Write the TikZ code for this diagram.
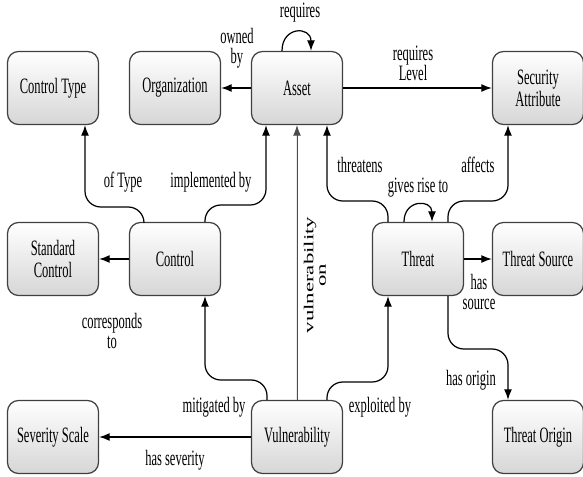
\documentclass[tikz,border=0pt]{standalone}
\usepackage{fontspec}
\setmainfont{Liberation Serif}[FakeStretch=0.57]
\newfontfamily\uprightserif{Liberation Serif}
\usepackage{graphicx}
\usetikzlibrary{positioning}
\usetikzlibrary{arrows.meta}

\begin{document}
\begin{tikzpicture}[x=0.02cm,y=-0.02cm,
    concept/.style={draw=black!75,line width=0.7pt,rounded corners=.22cm,
      minimum width=1.82cm,minimum height=1.46cm,top color=white,bottom color=black!16,
      align=center,font=\fontsize{12.5}{12.5}\selectfont},
    rel/.style={-{Latex[length=6pt,width=4.5pt]},line width=0.7pt},
    bent/.style={rel,rounded corners=9pt},
    lbl/.style={align=center,font=\fontsize{12.5}{11.5}\selectfont,inner sep=1pt}]
  \useasboundingbox (0,0) rectangle (583,477);

  % concepts
  \node [concept] (ctype)  at (53,88)   {Control Type};
  \node [concept] (org)    at (175,88)  {Organization};
  \node [concept] (asset)  at (297,88)  {Asset};
  \node [concept] (secatt) at (538,88)  {Security\\Attribute};
  \node [concept] (stdctl) at (53,259)  {Standard\\Control};
  \node [concept] (ctrl)   at (175,259) {Control};
  \node [concept] (threat) at (418,259) {Threat};
  \node [concept] (tsrc)   at (538,259) {Threat Source};
  \node [concept] (sev)    at (53,437)  {Severity Scale};
  \node [concept] (vuln)   at (297,437) {Vulnerability};
  \node [concept] (torig)  at (538,437) {Threat Origin};

  % straight relations
  \draw [rel] (asset) -- (org);
  \draw [rel] (asset) -- (secatt);
  \draw [rel] (ctrl) -- (stdctl);
  \draw [rel] (threat) -- (tsrc);
  \draw [rel] (vuln) -- (sev);
  \draw [rel,line width=0.5pt,draw=black!70,fill=black!70] (vuln) -- (asset);

  % self loops
  \draw [rel] ([xshift=-0.3cm]asset.north) .. controls (282,26) and (311,26) .. ([xshift=0.28cm]asset.north);
  \draw [rel] ([xshift=-0.28cm]threat.north) .. controls (404,199) and (432,199) .. ([xshift=0.28cm]threat.north);

  % bent relations
  \draw [bent] ([xshift=-0.62cm]ctrl.north) -- (144,207) -| ([xshift=0.64cm]ctype.south);
  \draw [bent] ([xshift=0.6cm]ctrl.north) -- (205,205) -| ([xshift=-0.62cm]asset.south);
  \draw [bent] ([xshift=-0.6cm]threat.north) -- (388,201) -| ([xshift=0.6cm]asset.south);
  \draw [bent] ([xshift=0.6cm]threat.north) -- (448,201) -| ([xshift=-0.6cm]secatt.south);
  \draw [bent] ([xshift=0.6cm]threat.south) -- (448,349) -| ([xshift=-0.6cm]torig.north);
  \draw [bent] ([xshift=-0.6cm]vuln.north) -- (267,380) -| ([xshift=0.6cm]ctrl.south);
  \draw [bent] ([xshift=0.6cm]vuln.north) -- (327,382) -| ([xshift=-0.6cm]threat.south);

  % labels
  \node [lbl] (lreq)   at (300,13)  {requires};
  \node [lbl] (lown)   at (237,48)  {owned\\by};
  \node [lbl] (llevel) at (413,63)  {requires\\Level};
  \node [lbl] (ltype)  at (123,182) {of Type};
  \node [lbl] (limpl)  at (211,182) {implemented by};
  \node [lbl] (lthr)   at (360,165) {threatens};
  \node [lbl] (laff)   at (478,165) {affects};
  \node [lbl] (lrise)  at (418,188) {gives rise to};
  \node [lbl] (lsrc)   at (479,292) {has\\source};
  \node [lbl] (lcorr)  at (112,331) {corresponds\\to};
  \node [lbl] (lorig)  at (471,380) {has origin};
  \node [lbl] (lmit)   at (214,407) {mitigated by};
  \node [lbl] (lexp)   at (380,407) {exploited by};
  \node [lbl] (lsev)   at (175,460) {has severity};
  \node [rotate=90,inner sep=0pt] (lvon) at (315,275)
    {\uprightserif\fontsize{13}{14}\selectfont\scalebox{1}[0.6]{\shortstack{vulnerability\\on}}};
\end{tikzpicture}
\end{document}
